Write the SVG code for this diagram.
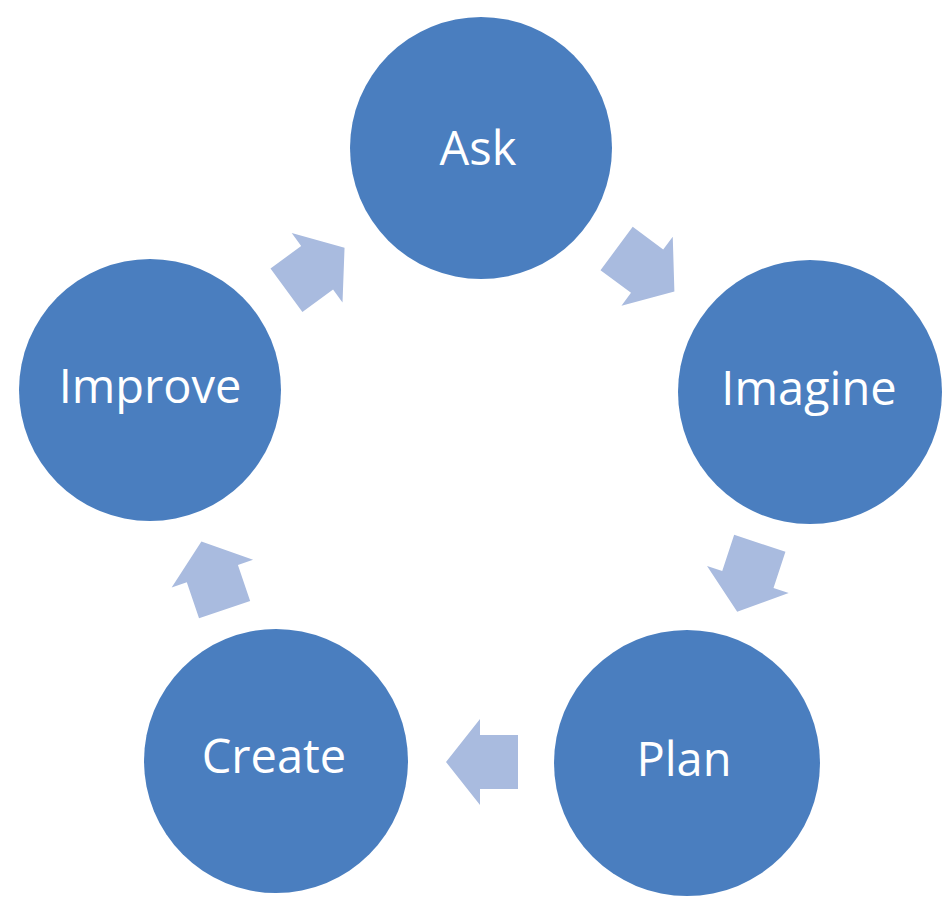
<svg xmlns="http://www.w3.org/2000/svg" width="949" height="916" viewBox="0 0 949 916">
  <style>
    .node { fill: #4a7ebf; }
    .label { font-family: "Open Sans", "Noto Sans", "Liberation Sans", sans-serif; font-size: 47px; fill: #ffffff; text-anchor: middle; }
    .arrow { fill: #a9bbdf; }
  </style>
  <defs>
    <polygon id="blockArrow" points="-36,-27 2,-27 2,-43 36,0 2,43 2,27 -36,27"/>
  </defs>
  <rect x="0" y="0" width="949" height="916" fill="#ffffff"/>
  <g id="connectors">
    <use href="#blockArrow" class="arrow" transform="translate(315.5,269) rotate(-36.2)"/>
    <use href="#blockArrow" class="arrow" transform="translate(645.5,270) rotate(36.6)"/>
    <use href="#blockArrow" class="arrow" transform="translate(748.5,577.5) rotate(108.3)"/>
    <use href="#blockArrow" class="arrow" transform="translate(482,762) rotate(180)"/>
    <use href="#blockArrow" class="arrow" transform="translate(213,575.5) rotate(-108.8)"/>
  </g>
  <g id="node-ask">
    <circle class="node" cx="481" cy="148" r="131"/>
    <text class="label" x="478" y="165">Ask</text>
  </g>
  <g id="node-imagine">
    <circle class="node" cx="810" cy="392" r="132"/>
    <text class="label" x="809" y="405">Imagine</text>
  </g>
  <g id="node-plan">
    <circle class="node" cx="687" cy="763" r="133"/>
    <text class="label" x="684" y="776">Plan</text>
  </g>
  <g id="node-create">
    <circle class="node" cx="276" cy="761" r="132"/>
    <text class="label" x="274" y="773">Create</text>
  </g>
  <g id="node-improve">
    <circle class="node" cx="150" cy="390" r="131"/>
    <text class="label" x="150" y="403">Improve</text>
  </g>
</svg>
